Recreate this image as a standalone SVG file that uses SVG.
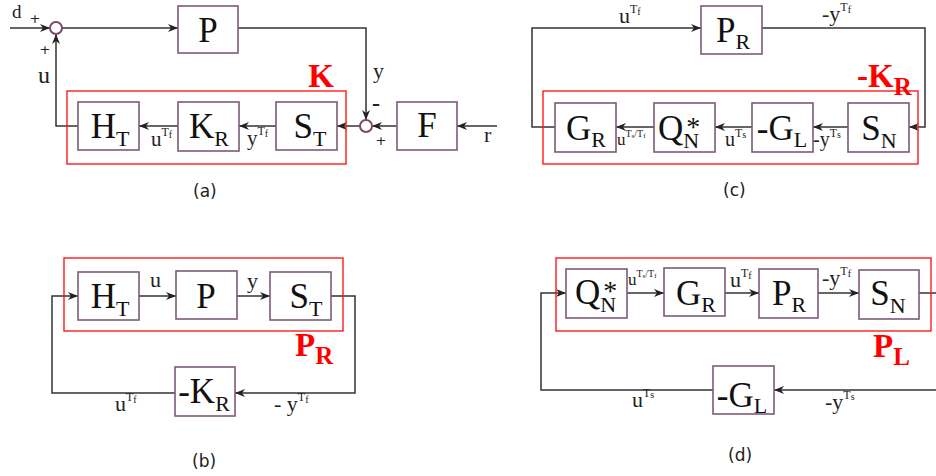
<svg xmlns="http://www.w3.org/2000/svg" width="936" height="476" viewBox="0 0 936 476">
<defs>
<marker id="ah" viewBox="0 0 10 8" refX="10" refY="4" markerWidth="10" markerHeight="8" markerUnits="userSpaceOnUse" orient="auto"><path d="M0,0 L10,4 L0,8 L3,4 z" fill="#222"/></marker>
<style>
.box{fill:#fff;stroke:#7d5a78;stroke-width:1.6}
.red{fill:none;stroke:#ff1a1a;stroke-width:1.4}
.ln{fill:none;stroke:#333;stroke-width:1.5}
.ar{marker-end:url(#ah)}
.sum{fill:#fff;stroke:#7a4a6e;stroke-width:2}
.big{font-family:"Liberation Serif",serif;font-size:35px;fill:#111}
.sb{font-size:22px}
.st{font-size:28px}
.el{font-family:"Liberation Serif",serif;font-size:21px;fill:#222}
.s1{font-size:12px}
.s2{font-size:10px}
.t1{font-size:10px}
.t2{font-size:7px}
.rl{font-family:"Liberation Serif",serif;font-weight:bold;fill:#ff0000;font-size:33px}
.rs{font-size:25px}
.pl{font-family:"DejaVu Sans",sans-serif;font-size:13px;fill:#222}
.cap{font-family:"DejaVu Sans",sans-serif;font-size:17px;fill:#222}
</style>
</defs>

<g id="connectors">
<!-- (a) -->
<path class="ln ar" d="M10,28 H50"/>
<path class="ln ar" d="M62,28 H178"/>
<path class="ln ar" d="M238,28 H366 V120"/>
<path class="ln ar" d="M497,126 H457"/>
<path class="ln ar" d="M397,126 H372"/>
<path class="ln ar" d="M360,126 H337"/>
<path class="ln ar" d="M276,126 H239"/>
<path class="ln ar" d="M178,126 H139"/>
<path class="ln ar" d="M78,126 H56 V34"/>
<!-- (c) -->
<path class="ln ar" d="M555,127 H532 V28 H701"/>
<path class="ln ar" d="M762,28 H925 V127 H909"/>
<path class="ln ar" d="M848,127 H813"/>
<path class="ln ar" d="M752,127 H715"/>
<path class="ln ar" d="M654,127 H616"/>
<!-- (b) -->
<path class="ln ar" d="M139,296 H176"/>
<path class="ln ar" d="M237,296 H270"/>
<path class="ln ar" d="M331,296 H355 V393 H235"/>
<path class="ln ar" d="M175,393 H52 V296 H78"/>
<!-- (d) -->
<path class="ln ar" d="M627,293 H664"/>
<path class="ln ar" d="M725,293 H759"/>
<path class="ln ar" d="M818,293 H859"/>
<path class="ln" d="M919,293 H936"/>
<path class="ln ar" d="M936,390 H774"/>
<path class="ln ar" d="M713,390 H541 V293 H566"/>
</g>

<!-- Panel (a) -->
<g id="a-K-group"><rect class="red" x="67" y="91" width="279" height="73"/><text class="rl" x="321" y="87" text-anchor="middle">K</text></g>
<g id="a-P"><rect class="box" x="178" y="6" width="60" height="47"/><text class="big" x="208" y="42" text-anchor="middle">P</text></g>
<g id="a-HT"><rect class="box" x="78" y="102" width="61" height="48"/><text class="big" x="110" y="138" text-anchor="middle">H<tspan class="sb" dy="8">T</tspan></text></g>
<g id="a-KR"><rect class="box" x="178" y="102" width="61" height="49"/><text class="big" x="209" y="138" text-anchor="middle">K<tspan class="sb" dy="8">R</tspan></text></g>
<g id="a-ST"><rect class="box" x="276" y="102" width="61" height="48"/><text class="big" x="310" y="138" text-anchor="middle">S<tspan class="sb" dy="8">T</tspan></text></g>
<g id="a-F"><rect class="box" x="397" y="102" width="60" height="48"/><text class="big" x="427" y="137" text-anchor="middle">F</text></g>
<g id="a-sum1"><circle class="sum" cx="56" cy="28" r="6"/></g>
<g id="a-sum2"><circle class="sum" cx="366" cy="126" r="6"/></g>
<g id="a-labels">
<text class="el" x="12" y="18" style="font-size:19px">d</text>
<text class="pl" x="35" y="23" text-anchor="middle">+</text>
<text class="pl" x="45" y="54" text-anchor="middle">+</text>
<text class="el" x="38" y="83" style="font-size:24px">u</text>
<text class="el" x="373" y="78" style="font-size:22px">y</text>
<text class="el" x="372" y="111" style="font-size:24px;font-weight:bold">-</text>
<text class="pl" x="381" y="145" text-anchor="middle">+</text>
<text class="el" x="484" y="142" style="font-size:22px">r</text>
<text class="el" x="151" y="146">u<tspan class="s1" dy="-10">T</tspan><tspan class="s2" dy="2">f</tspan></text>
<text class="el" x="247" y="145">y<tspan class="s1" dy="-10">T</tspan><tspan class="s2" dy="2">f</tspan></text>
</g>
<text class="cap" x="193" y="197">(a)</text>

<!-- Panel (c) -->
<g id="c-KR-group"><rect class="red" x="543" y="91" width="375" height="73"/><text class="rl" x="857" y="87">-K<tspan class="rs" dy="8">R</tspan></text></g>
<g id="c-PR"><rect class="box" x="701" y="6" width="61" height="48"/><text class="big" x="733" y="42" text-anchor="middle">P<tspan class="sb" dy="7">R</tspan></text></g>
<g id="c-GR"><rect class="box" x="555" y="103" width="61" height="49"/><text class="big" x="586" y="140" text-anchor="middle">G<tspan class="sb" dy="7">R</tspan></text></g>
<g id="c-QN"><rect class="box" x="654" y="103" width="61" height="49"/><text class="big" x="658" y="140">Q<tspan class="sb" dy="8">N</tspan><tspan class="st" dx="-13" dy="-12">*</tspan></text></g>
<g id="c-GL"><rect class="box" x="752" y="103" width="61" height="49"/><text class="big" x="782" y="140" text-anchor="middle">-G<tspan class="sb" dy="7">L</tspan></text></g>
<g id="c-SN"><rect class="box" x="848" y="103" width="61" height="49"/><text class="big" x="879" y="140" text-anchor="middle">S<tspan class="sb" dy="8">N</tspan></text></g>
<g id="c-labels">
<text class="el" x="619" y="23" style="font-size:22px">u<tspan class="s1" dy="-10">T</tspan><tspan class="s2" dy="2">f</tspan></text>
<text class="el" x="822" y="21" style="font-size:22px">-y<tspan class="s1" dy="-10">T</tspan><tspan class="s2" dy="2">f</tspan></text>
<text class="el" x="617" y="145" style="font-size:17px">u<tspan class="t1" dy="-8">T</tspan><tspan class="t2" dy="1">s</tspan><tspan class="t1" dy="-1">/T</tspan><tspan class="t2" dy="1">f</tspan></text>
<text class="el" x="725" y="146" style="font-size:20px">u<tspan class="s1" dy="-9">T</tspan><tspan class="s2" dy="1">s</tspan></text>
<text class="el" x="813" y="146" style="font-size:20px">-y<tspan class="s1" dy="-9">T</tspan><tspan class="s2" dy="1">s</tspan></text>
</g>
<text class="cap" x="723" y="196">(c)</text>

<!-- Panel (b) -->
<g id="b-PR-group"><rect class="red" x="64" y="258" width="279" height="73"/><text class="rl" x="295" y="356">P<tspan class="rs" dy="8">R</tspan></text></g>
<g id="b-HT"><rect class="box" x="78" y="272" width="61" height="48"/><text class="big" x="110" y="308" text-anchor="middle">H<tspan class="sb" dy="8">T</tspan></text></g>
<g id="b-P"><rect class="box" x="176" y="271" width="61" height="48"/><text class="big" x="206" y="308" text-anchor="middle">P</text></g>
<g id="b-ST"><rect class="box" x="270" y="272" width="61" height="48"/><text class="big" x="306" y="308" text-anchor="middle">S<tspan class="sb" dy="8">T</tspan></text></g>
<g id="b-KR"><rect class="box" x="175" y="367" width="60" height="49"/><text class="big" x="204" y="403" text-anchor="middle">-K<tspan class="sb" dy="8">R</tspan></text></g>
<g id="b-labels">
<text class="el" x="150" y="287" style="font-size:22px">u</text>
<text class="el" x="247" y="288" style="font-size:22px">y</text>
<text class="el" x="115" y="411" style="font-size:22px">u<tspan class="s1" dy="-10">T</tspan><tspan class="s2" dy="2">f</tspan></text>
<text class="el" x="274" y="411" style="font-size:22px">- y<tspan class="s1" dy="-10">T</tspan><tspan class="s2" dy="2">f</tspan></text>
</g>
<text class="cap" x="192" y="467">(b)</text>

<!-- Panel (d) -->
<g id="d-PL-group"><rect class="red" x="556" y="258" width="375" height="73"/><text class="rl" x="873" y="357">P<tspan class="rs" dy="8">L</tspan></text></g>
<g id="d-QN"><rect class="box" x="566" y="269" width="61" height="49"/><text class="big" x="575" y="304">Q<tspan class="sb" dy="8">N</tspan><tspan class="st" dx="-13" dy="-12">*</tspan></text></g>
<g id="d-GR"><rect class="box" x="664" y="268" width="61" height="48"/><text class="big" x="696" y="305" text-anchor="middle">G<tspan class="sb" dy="7">R</tspan></text></g>
<g id="d-PR"><rect class="box" x="759" y="269" width="59" height="49"/><text class="big" x="789" y="305" text-anchor="middle">P<tspan class="sb" dy="7">R</tspan></text></g>
<g id="d-SN"><rect class="box" x="859" y="270" width="60" height="49"/><text class="big" x="888" y="305" text-anchor="middle">S<tspan class="sb" dy="8">N</tspan></text></g>
<g id="d-GL"><rect class="box" x="713" y="366" width="61" height="48"/><text class="big" x="742" y="407" text-anchor="middle">-G<tspan class="sb" dy="6">L</tspan></text></g>
<g id="d-labels">
<text class="el" x="628" y="285" style="font-size:17px">u<tspan class="t1" dy="-8">T</tspan><tspan class="t2" dy="1">s</tspan><tspan class="t1" dy="-1">/T</tspan><tspan class="t2" dy="1">f</tspan></text>
<text class="el" x="730" y="287" style="font-size:22px">u<tspan class="s1" dy="-10">T</tspan><tspan class="s2" dy="2">f</tspan></text>
<text class="el" x="822" y="285" style="font-size:22px">-y<tspan class="s1" dy="-10">T</tspan><tspan class="s2" dy="2">f</tspan></text>
<text class="el" x="632" y="407" style="font-size:22px">u<tspan class="s1" dy="-10">T</tspan><tspan class="s2" dy="1">s</tspan></text>
<text class="el" x="825" y="409" style="font-size:22px">-y<tspan class="s1" dy="-10">T</tspan><tspan class="s2" dy="1">s</tspan></text>
</g>
<text class="cap" x="728" y="461">(d)</text>
</svg>
